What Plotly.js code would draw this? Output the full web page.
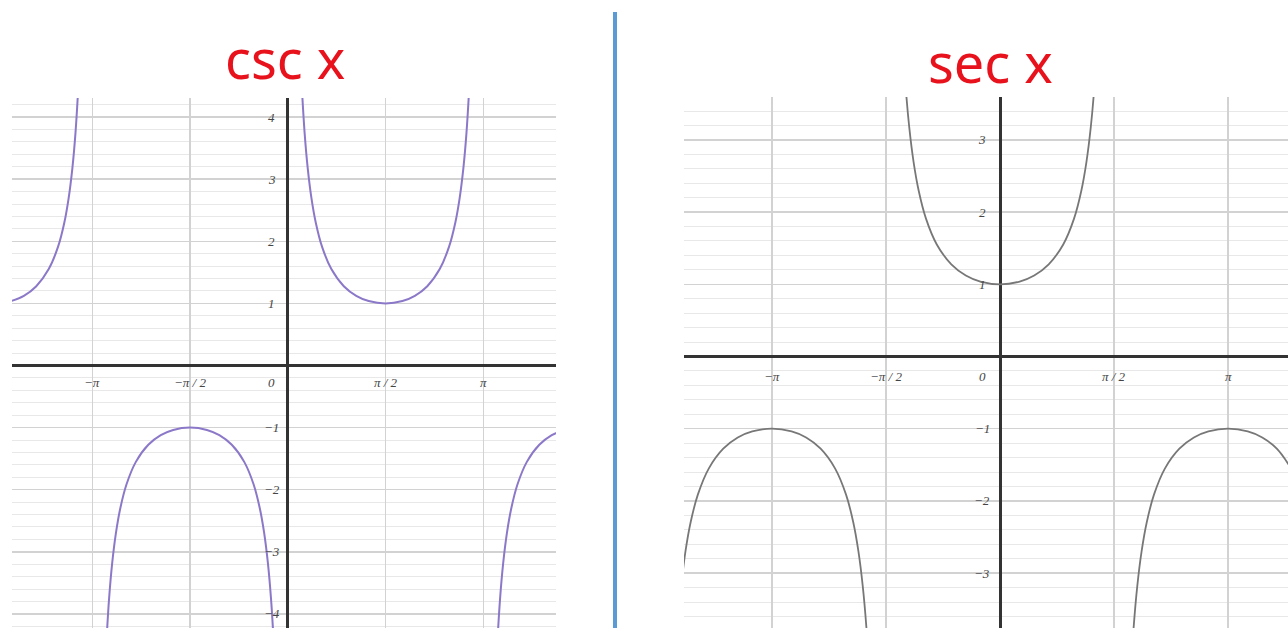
<!DOCTYPE html>
<html>
<head>
<meta charset="utf-8">
<script src="https://cdn.plot.ly/plotly-3.0.1.min.js"></script>
<style>
  html, body { margin: 0; padding: 0; background: #fff; }
  #chart { width: 1288px; height: 642px; }
</style>
</head>
<body>
<div id="chart"></div>
<script>
// csc x branches (x in radians, y = csc x)
const cscAx = [-4.4416, -4.2416, -4.0416, -3.8416, -3.6916, -3.5916, -3.5216, -3.4616, -3.4116, -3.3616, -3.3416];
const cscAy = [1.038, 1.122, 1.277, 1.552, 1.913, 2.299, 2.696, 3.179, 3.750, 4.583, 5.033];

const cscBx = [-2.9416, -2.9216, -2.8716, -2.8216, -2.7616, -2.6916, -2.5916, -2.4416, -2.2416, -2.0416, -1.8416, -1.5708,
               -1.3, -1.1, -0.9, -0.7, -0.55, -0.45, -0.38, -0.32, -0.27, -0.22, -0.2];
const cscBy = [-5.033, -4.583, -3.750, -3.179, -2.696, -2.299, -1.913, -1.552, -1.277, -1.122, -1.038, -1,
               -1.038, -1.122, -1.277, -1.552, -1.913, -2.299, -2.696, -3.179, -3.750, -4.583, -5.033];

const cscCx = [0.2, 0.22, 0.27, 0.32, 0.38, 0.45, 0.55, 0.7, 0.9, 1.1, 1.3, 1.5708,
               1.8416, 2.0416, 2.2416, 2.4416, 2.5916, 2.6916, 2.7616, 2.8216, 2.8716, 2.9216, 2.9416];
const cscCy = [5.033, 4.583, 3.750, 3.179, 2.696, 2.299, 1.913, 1.552, 1.277, 1.122, 1.038, 1,
               1.038, 1.122, 1.277, 1.552, 1.913, 2.299, 2.696, 3.179, 3.750, 4.583, 5.033];

const cscDx = [3.3416, 3.3616, 3.4116, 3.4616, 3.5216, 3.5916, 3.6916, 3.8416, 4.0416, 4.2416, 4.4416];
const cscDy = [-5.033, -4.583, -3.750, -3.179, -2.696, -2.299, -1.913, -1.552, -1.277, -1.122, -1.038];

// sec x branches
const secLx = [-4.3924, -4.3324, -4.2624, -4.1624, -4.0124, -3.8124, -3.6124, -3.4124, -3.1416,
               -2.8708, -2.6708, -2.4708, -2.2708, -2.1208, -2.0208, -1.9508, -1.8908, -1.8408, -1.7908, -1.7708];
const secLy = [-3.179, -2.696, -2.299, -1.913, -1.552, -1.277, -1.122, -1.038, -1,
               -1.038, -1.122, -1.277, -1.552, -1.913, -2.299, -2.696, -3.179, -3.750, -4.583, -5.033];

const secMx = [-1.3708, -1.3508, -1.3008, -1.2508, -1.1908, -1.1208, -1.0208, -0.8708, -0.6708, -0.4708, -0.2708, 0,
               0.2708, 0.4708, 0.6708, 0.8708, 1.0208, 1.1208, 1.1908, 1.2508, 1.3008, 1.3508, 1.3708];
const secMy = [5.033, 4.583, 3.750, 3.179, 2.696, 2.299, 1.913, 1.552, 1.277, 1.122, 1.038, 1,
               1.038, 1.122, 1.277, 1.552, 1.913, 2.299, 2.696, 3.179, 3.750, 4.583, 5.033];

const secRx = [1.7708, 1.7908, 1.8408, 1.8908, 1.9508, 2.0208, 2.1208, 2.2708, 2.4708, 2.6708, 2.8708, 3.1416,
               3.4124, 3.6124, 3.8124, 4.0124];
const secRy = [-5.033, -4.583, -3.750, -3.179, -2.696, -2.299, -1.913, -1.552, -1.277, -1.122, -1.038, -1,
               -1.038, -1.122, -1.277, -1.552];

// axis ticks
const xTickVals = [-Math.PI, -Math.PI / 2, Math.PI / 2, Math.PI];
const xTickText = ['\u2212\u03c0', '\u2212\u03c0 / 2', '\u03c0 / 2', '\u03c0'];
const cscYTicks = [4, 3, 2, 1, -1, -2, -3, -4];
const secYTicks = [3, 2, 1, -1, -2, -3];
const titles = ['csc x', 'sec x'];

const W = 1288, H = 642;
const px = v => v / W;
const py = v => 1 - v / H;

const cscColor = '#8b78c8';
const secColor = '#777777';

function branch(x, y, color, xa, ya, width) {
  return {
    type: 'scatter', mode: 'lines', x: x, y: y, xaxis: xa, yaxis: ya,
    line: { color: color, width: width, shape: 'spline', smoothing: 1 },
    hoverinfo: 'skip'
  };
}

const traces = [
  branch(cscAx, cscAy, cscColor, 'x', 'y', 2),
  branch(cscBx, cscBy, cscColor, 'x', 'y', 2),
  branch(cscCx, cscCy, cscColor, 'x', 'y', 2),
  branch(cscDx, cscDy, cscColor, 'x', 'y', 2),
  branch(secLx, secLy, secColor, 'x2', 'y2', 1.8),
  branch(secMx, secMy, secColor, 'x2', 'y2', 1.8),
  branch(secRx, secRy, secColor, 'x2', 'y2', 1.8)
];

const gridMajor = '#d2d2d2';
const gridMinor = '#e8e8e8';

function xAxis(domain, range, anchor) {
  return {
    domain: domain, range: range, anchor: anchor,
    tickmode: 'array', tickvals: xTickVals, showticklabels: false, ticks: '',
    showgrid: true, gridcolor: gridMajor, gridwidth: 1.5,
    zeroline: true, zerolinecolor: '#333333', zerolinewidth: 3,
    showline: false, fixedrange: true
  };
}
function yAxis(domain, range, anchor, ticks) {
  return {
    domain: domain, range: range, anchor: anchor,
    tickmode: 'array', tickvals: ticks, showticklabels: false, ticks: '',
    showgrid: true, gridcolor: gridMajor, gridwidth: 1.5,
    minor: { tickmode: 'linear', tick0: 0, dtick: 0.2, showgrid: true, gridcolor: gridMinor, gridwidth: 1, ticks: '' },
    zeroline: true, zerolinecolor: '#333333', zerolinewidth: 3,
    showline: false, fixedrange: true
  };
}

const tickFont = { family: 'Liberation Serif, DejaVu Serif, serif', size: 13, style: 'italic', color: '#444444' };

function tickLabels(xref, yref, yTicks, below, left) {
  const out = [];
  xTickVals.forEach((v, i) => out.push({
    xref: xref, yref: yref, x: v, y: 0, text: xTickText[i], showarrow: false,
    yshift: -below, font: tickFont
  }));
  out.push({ xref: xref, yref: yref, x: 0, y: 0, text: '0', showarrow: false,
    xshift: -left, yshift: -below, font: tickFont });
  yTicks.forEach(v => out.push({
    xref: xref, yref: yref, x: 0, y: v, text: (v < 0 ? '\u2212' : '') + Math.abs(v), showarrow: false,
    xshift: -left, font: tickFont
  }));
  return out;
}

const titleFont = { family: 'Noto Sans, Open Sans, sans-serif', size: 54, color: '#e8121c' };

const layout = {
  width: W, height: H,
  margin: { l: 0, r: 0, t: 0, b: 0, pad: 0 },
  paper_bgcolor: '#ffffff', plot_bgcolor: '#ffffff',
  showlegend: false,
  xaxis: xAxis([px(12), px(556)], [-4.432, 4.310], 'y'),
  yaxis: yAxis([py(628), py(98)], [-4.227, 4.307], 'x', cscYTicks),
  xaxis2: xAxis([px(684), 1], [-4.353, 3.967], 'y2'),
  yaxis2: yAxis([py(628), py(97)], [-3.760, 3.594], 'x2', secYTicks),
  shapes: [{
    type: 'line', xref: 'paper', yref: 'paper',
    x0: px(615), x1: px(615), y0: py(628), y1: py(12),
    line: { color: '#5b9bd5', width: 4 }
  }],
  annotations: [
    { xref: 'paper', yref: 'paper', x: px(285), y: py(58), text: titles[0], showarrow: false,
      xanchor: 'center', yanchor: 'middle', font: titleFont },
    { xref: 'paper', yref: 'paper', x: px(990), y: py(62), text: titles[1], showarrow: false,
      xanchor: 'center', yanchor: 'middle', font: titleFont }
  ].concat(tickLabels('x', 'y', cscYTicks, 17, 16), tickLabels('x2', 'y2', secYTicks, 20, 18))
};

Plotly.newPlot('chart', traces, layout, { staticPlot: true, displayModeBar: false });
</script>
</body>
</html>
